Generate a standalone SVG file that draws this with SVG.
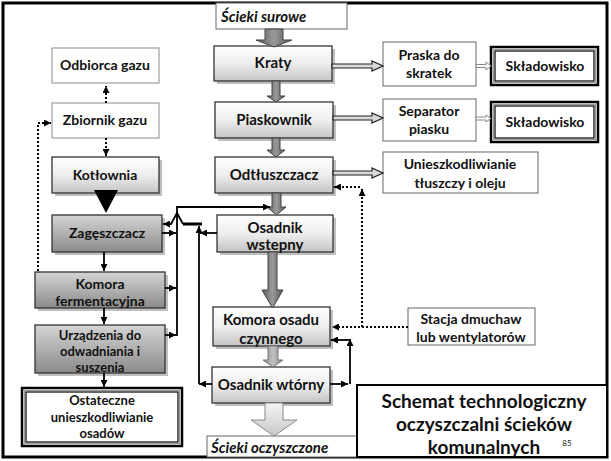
<svg xmlns="http://www.w3.org/2000/svg" width="611" height="461" viewBox="0 0 611 461">
<defs>
<linearGradient id="gLight" x1="0" y1="0" x2="0" y2="1">
<stop offset="0" stop-color="#ffffff"/><stop offset="0.5" stop-color="#eeeeee"/><stop offset="1" stop-color="#c4c4c4"/>
</linearGradient>
<linearGradient id="gDark" x1="0" y1="0" x2="0" y2="1">
<stop offset="0" stop-color="#d4d4d4"/><stop offset="0.5" stop-color="#b0b0b0"/><stop offset="1" stop-color="#8a8a8a"/>
</linearGradient>
<linearGradient id="gArrow" x1="0" y1="0" x2="1" y2="0">
<stop offset="0" stop-color="#5a5a5a"/><stop offset="0.5" stop-color="#9a9a9a"/><stop offset="1" stop-color="#555555"/>
</linearGradient>
<linearGradient id="gArrowLight" x1="0" y1="0" x2="1" y2="0">
<stop offset="0" stop-color="#8a8a8a"/><stop offset="0.5" stop-color="#c0c0c0"/><stop offset="1" stop-color="#888888"/>
</linearGradient>
<linearGradient id="gArrowPale" x1="0" y1="0" x2="0" y2="1">
<stop offset="0" stop-color="#f4f4f4"/><stop offset="1" stop-color="#c8c8c8"/>
</linearGradient>
<marker id="ah" viewBox="0 0 10 10" refX="10" refY="5" markerWidth="7" markerHeight="7" markerUnits="userSpaceOnUse" orient="auto">
<path d="M0,0 L10,5 L0,10 z" fill="#000"/>
</marker>
</defs>
<style>
text{font-family:Lato,"Liberation Sans",sans-serif;font-weight:bold;fill:#111;text-anchor:middle}
.t13{font-size:13px}
.t14{font-size:14px}
.t15{font-size:15px}
.it{font-style:italic;text-anchor:start;font-size:15px}
.big{font-size:19px}
.white{fill:#fff;stroke:#8a8a8a;stroke-width:1}
.wbox{fill:#fff;stroke:#666;stroke-width:1}
.light{fill:url(#gLight);stroke:#333;stroke-width:1.3}
.dark{fill:url(#gDark);stroke:#333;stroke-width:1.3}
.shadow{fill:#000;opacity:0.25}
.dbl1{fill:#fff;stroke:#000;stroke-width:2.5}
.dbl2{fill:none;stroke:#999;stroke-width:1}
.dbl3{fill:none;stroke:#000;stroke-width:1.2}
.sol{fill:none;stroke:#000;stroke-width:1.8}
.dot{fill:none;stroke:#000;stroke-width:2;stroke-dasharray:2 2}
.garr{fill:url(#gArrow);stroke:#444;stroke-width:1}
.hol{fill:#d8d8d8;stroke:#222;stroke-width:1.2}
.hol2{fill:#fff;stroke:#888;stroke-width:1}
</style>
<rect x="3" y="3" width="604" height="454" fill="#fff" stroke="#000" stroke-width="3"/>

<g id="scieki-surowe"><rect x="216" y="3" width="131" height="26" class="wbox"/><text x="221" y="22" class="it">Ścieki surowe</text></g>

<g id="kraty"><rect x="217" y="49" width="118" height="35" class="shadow"/><rect x="214" y="46" width="118" height="35" class="light"/><text x="273" y="68" class="t15">Kraty</text></g>
<g id="piaskownik"><rect x="218" y="105" width="118" height="36" class="shadow"/><rect x="215" y="102" width="118" height="36" class="light"/><text x="274" y="125" class="t15">Piaskownik</text></g>
<g id="odtluszczacz"><rect x="218" y="160" width="118" height="36" class="shadow"/><rect x="215" y="157" width="118" height="36" class="light"/><text x="274" y="180" class="t15">Odtłuszczacz</text></g>
<g id="osadnik-wstepny"><rect x="220" y="218" width="116" height="37" class="shadow"/><rect x="217" y="215" width="116" height="37" class="light"/><text x="275" y="233" class="t15">Osadnik</text><text x="275" y="250" class="t15">wstepny</text></g>
<g id="komora-osadu"><rect x="216" y="310" width="117" height="39" class="shadow"/><rect x="213" y="307" width="117" height="39" class="light"/><text x="271" y="325" class="t15">Komora osadu</text><text x="271" y="344" class="t15">czynnego</text></g>
<g id="osadnik-wtorny"><rect x="215" y="370" width="118" height="36" class="shadow"/><rect x="212" y="367" width="118" height="36" class="light"/><text x="271" y="390" class="t15">Osadnik wtórny</text></g>
<g id="scieki-oczyszczone"><rect x="207" y="436" width="150" height="21" class="wbox"/><text x="211" y="453" class="it">Ścieki oczyszczone</text></g>

<g id="odbiorca-gazu"><rect x="52" y="48" width="107" height="35" class="white"/><text x="105" y="70" class="t14">Odbiorca gazu</text></g>
<g id="zbiornik-gazu"><rect x="52" y="103" width="107" height="35" class="white"/><text x="105" y="125" class="t14">Zbiornik gazu</text></g>
<g id="kotlownia"><rect x="55" y="160" width="107" height="36" class="shadow"/><rect x="52" y="157" width="107" height="36" class="light"/><text x="105" y="180" class="t14">Kotłownia</text></g>
<g id="zageszczacz"><rect x="55" y="218" width="110" height="37" class="shadow"/><rect x="52" y="215" width="110" height="37" class="dark"/><text x="107" y="238" class="t14">Zagęszczacz</text></g>
<g id="komora-fermentacyjna"><rect x="38" y="275" width="130" height="36" class="shadow"/><rect x="35" y="272" width="130" height="36" class="dark"/><text x="100" y="289" class="t14">Komora</text><text x="100" y="306" class="t14">fermentacyjna</text></g>
<g id="urzadzenia"><rect x="38" y="328" width="130" height="48" class="shadow"/><rect x="35" y="325" width="130" height="48" class="dark"/><text x="100" y="340" class="t13">Urządzenia do</text><text x="100" y="356" class="t13">odwadniania i</text><text x="100" y="372" class="t13">suszenia</text></g>
<g id="ostateczne"><rect x="22" y="388" width="160" height="58" class="dbl1"/><rect x="24.5" y="390.5" width="155" height="53" class="dbl2"/><rect x="26" y="392" width="152" height="50" class="dbl3"/><text x="102" y="405" class="t13">Ostateczne</text><text x="102" y="422" class="t13">unieszkodliwianie</text><text x="102" y="438" class="t13">osadów</text></g>

<g id="praska"><rect x="383" y="42" width="93" height="44" class="wbox"/><text x="429" y="60" class="t14">Praska do</text><text x="429" y="78" class="t14">skratek</text></g>
<g id="skladowisko-1"><rect x="491" y="47" width="107" height="38" class="dbl1"/><rect x="493.5" y="49.5" width="102" height="33" class="dbl2"/><rect x="495" y="51" width="99" height="30" class="dbl3"/><text x="545" y="71" class="t14">Składowisko</text></g>
<g id="separator"><rect x="383" y="99" width="93" height="42" class="wbox"/><text x="429" y="116" class="t14">Separator</text><text x="429" y="134" class="t14">piasku</text></g>
<g id="skladowisko-2"><rect x="491" y="102" width="107" height="40" class="dbl1"/><rect x="493.5" y="104.5" width="102" height="35" class="dbl2"/><rect x="495" y="106" width="99" height="32" class="dbl3"/><text x="545" y="127" class="t14">Składowisko</text></g>
<g id="unieszkodliwianie-tluszczy"><rect x="383" y="152" width="155" height="41" class="wbox"/><text x="460" y="169" class="t14">Unieszkodliwianie</text><text x="460" y="188" class="t14">tłuszczy i oleju</text></g>
<g id="stacja-dmuchaw"><rect x="408" y="308" width="127" height="37" class="wbox"/><text x="471" y="324" class="t14">Stacja dmuchaw</text><text x="471" y="342" class="t14">lub wentylatorów</text></g>

<g id="tytul"><rect x="357" y="385" width="250" height="72" fill="#fff" stroke="#000" stroke-width="2"/><text x="484" y="408" class="big">Schemat technologiczny</text><text x="484" y="431" class="big">oczyszczalni ścieków</text><text x="484" y="454" class="big">komunalnych</text><text x="567" y="446" style="font-size:8px;font-weight:normal">85</text></g>

<g id="connectors">
<polygon class="garr" points="265,29 283,29 283,40 292,40 274,47 256,40 265,40"/>
<polygon class="garr" points="272,81 280,81 280,96 285,96 276,102 267,96 272,96"/>
<polygon class="garr" points="272,138 280,138 280,150 285,150 276,157 267,150 272,150"/>
<polygon class="garr" points="272,193 281,193 281,207 286,207 276.5,215 267,207 272,207"/>
<polygon class="garr" points="268,252 277,252 277,290 283,290 272.5,308 262,290 268,290"/>
<polygon fill="url(#gArrowLight)" stroke="#777" stroke-width="1" points="268,346 278,346 278,360 283,360 273,367 263,360 268,360"/>
<polygon fill="url(#gArrowPale)" stroke="#888" stroke-width="1" points="265,403 283,403 283,420 297,420 274,436 251,420 265,420"/>

<polygon class="hol" points="332,64 372,64 372,61 383,66 372,71 372,68 332,68"/>
<polygon class="hol2" points="476,64.5 486,64.5 486,62 491,66 486,70 486,67.5 476,67.5"/>
<polygon class="hol" points="333,116 372,116 372,113 383,118 372,123 372,120 333,120"/>
<polygon class="hol2" points="476,117 486,117 486,115 491,118.5 486,122 486,120 476,120"/>
<polygon class="hol" points="333,171 372,171 372,168 383,173 372,178 372,175 333,175"/>

<path class="dot" d="M106,103 V86" marker-end="url(#ah)"/>
<path class="dot" d="M106,138 V156" marker-end="url(#ah)"/>
<path class="dot" d="M38,271 V123 H51" marker-end="url(#ah)"/>
<polygon points="94,190 118,190 106,213" fill="#000"/>

<path class="sol" d="M104,252 V271" marker-end="url(#ah)"/>
<path class="sol" d="M104,308 V324" marker-end="url(#ah)"/>
<path class="sol" d="M104,373 V387" marker-end="url(#ah)"/>
<path class="sol" d="M162,233 H176" marker-end="url(#ah)"/>
<path class="sol" d="M165,288 H176" marker-end="url(#ah)"/>
<path class="sol" d="M165,335 H176" marker-end="url(#ah)"/>
<path class="sol" d="M177,336 V207 H270" marker-end="url(#ah)"/>

<path class="sol" d="M217,233 H200" marker-end="url(#ah)"/>
<path class="sol" d="M212,384 H199" marker-end="url(#ah)"/>
<path class="sol" d="M199,384 V226" marker-end="url(#ah)"/>
<path fill="none" stroke="#000" stroke-width="3" d="M202,224 H183"/>
<path class="sol" d="M183,224 L177,213 L171,224 H163" marker-end="url(#ah)"/>

<path class="sol" d="M330,384 H348" marker-end="url(#ah)"/>
<path class="sol" d="M350,384 V339" marker-end="url(#ah)"/>
<path class="sol" d="M350,340 H331" marker-end="url(#ah)"/>

<path class="dot" d="M408,327 H332" marker-end="url(#ah)"/>
<path class="dot" d="M362,327 V189" marker-end="url(#ah)"/>
<path class="dot" d="M360,187 H334" marker-end="url(#ah)"/>
</g>
</svg>
